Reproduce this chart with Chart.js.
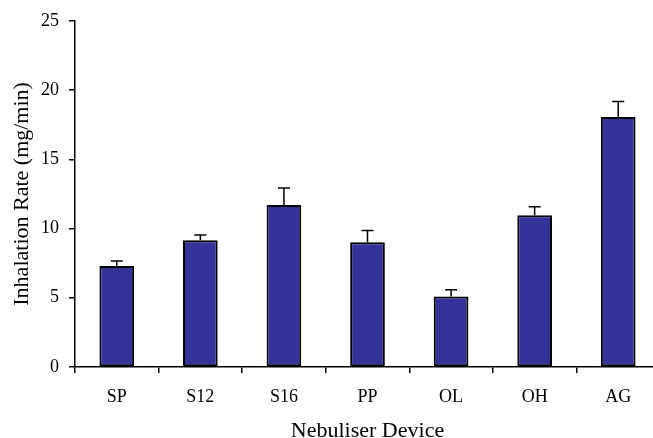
<!DOCTYPE html>
<html>
<head>
<meta charset="utf-8">
<script src="https://cdn.jsdelivr.net/npm/chart.js@4"></script>
<style>
  body { margin: 0; background: #fff; overflow: hidden; }
  #wrap { position: relative; width: 661px; height: 444px; }
</style>
</head>
<body>
<div id="wrap"><canvas id="myChart"></canvas></div>
<script>
'use strict';

let devices = ['SP', 'S12', 'S16', 'PP', 'OL', 'OH', 'AG'];
let rates = [7.3, 9.15, 11.7, 9.0, 5.1, 10.95, 18.05];
let errors = [0.35, 0.38, 1.23, 0.86, 0.48, 0.62, 1.12];
let yTicks = [0, 5, 10, 15, 20, 25];

let serif = "'Liberation Serif', 'Times New Roman', serif";

// draws the upper error bars (line + cap) over each bar
let errorBars = {
  id: 'errorBars',
  afterDatasetsDraw: function (chart) {
    let ctx = chart.ctx;
    let yScale = chart.scales.y;
    let bars = chart.getDatasetMeta(0).data;
    ctx.save();
    ctx.strokeStyle = '#000';
    ctx.lineWidth = 1.5;
    for (let i = 0; i < bars.length; i++) {
      let x = bars[i].x;
      let yBase = yScale.getPixelForValue(rates[i]);
      let yTop = yScale.getPixelForValue(rates[i] + errors[i]);
      ctx.beginPath();
      ctx.moveTo(x, yBase);
      ctx.lineTo(x, yTop);
      ctx.moveTo(x - 6, yTop);
      ctx.lineTo(x + 6, yTop);
      ctx.stroke();
    }
    ctx.restore();
  }
};

let ctx = document.getElementById('myChart').getContext('2d');
let myChart = new Chart(ctx, {
  type: 'bar',
  data: {
    labels: devices,
    datasets: [
      {
        label: 'Inhalation Rate',
        data: rates,
        backgroundColor: '#333399',
        borderColor: '#000',
        borderWidth: 2,
        borderSkipped: false,
        barPercentage: 0.415,
        categoryPercentage: 1
      }
    ]
  },
  options: {
    responsive: true,
    maintainAspectRatio: false,
    animation: false,
    layout: { padding: { top: 20, right: 1, left: 0, bottom: 0 } },
    plugins: {
      legend: { display: false },
      tooltip: { enabled: false }
    },
    scales: {
      x: {
        grid: {
          drawOnChartArea: false,
          drawTicks: true,
          tickLength: 6,
          color: '#000',
          lineWidth: 1.5
        },
        border: { display: true, color: '#000', width: 1.5 },
        ticks: {
          color: '#000',
          padding: 13,
          maxRotation: 0,
          font: { family: serif, size: 18 }
        },
        title: {
          display: true,
          text: 'Nebuliser Device',
          color: '#000',
          padding: { top: 0, bottom: 0 },
          font: { family: serif, size: 22 }
        },
        afterFit: function (scale) { scale.height = 77; }
      },
      y: {
        min: 0,
        max: 25,
        afterBuildTicks: function (scale) {
          scale.ticks = yTicks.map(v => ({ value: v }));
        },
        grid: {
          drawOnChartArea: false,
          drawTicks: true,
          tickLength: 6,
          color: '#000',
          lineWidth: 1.5
        },
        border: { display: true, color: '#000', width: 1.5 },
        ticks: {
          color: '#000',
          padding: 10,
          font: { family: serif, size: 18 }
        },
        title: {
          display: true,
          text: 'Inhalation Rate (mg/min)',
          color: '#000',
          padding: { top: 9, bottom: 0 },
          font: { family: serif, size: 22 }
        },
        afterFit: function (scale) { scale.width = 75; }
      }
    }
  },
  plugins: [errorBars]
});
</script>
</body>
</html>
